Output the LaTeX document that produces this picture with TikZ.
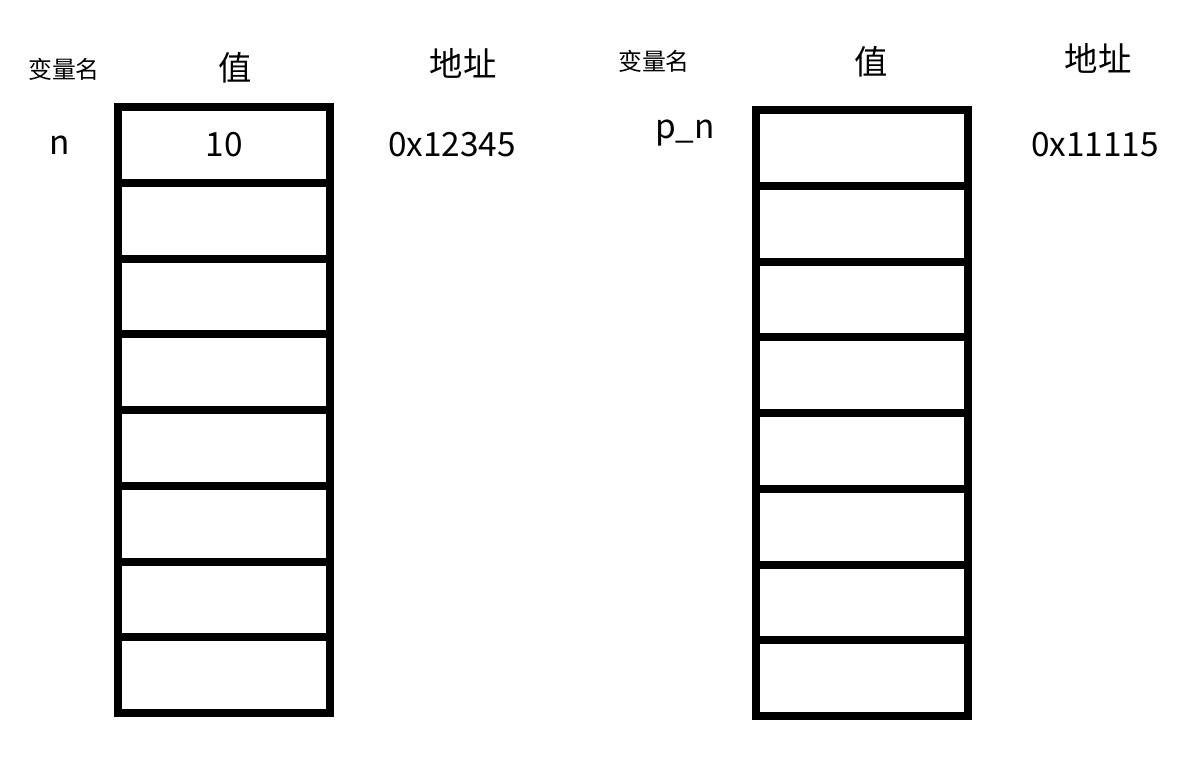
\documentclass[tikz,border=0pt]{standalone}
\usepackage{fontspec}
\setmainfont{Noto Sans CJK SC}
\usetikzlibrary{positioning}

\begin{document}
\begin{tikzpicture}[x=0.02cm, y=-0.02cm, node distance=1.515cm]
    % Define styles
    \tikzstyle{cell} = [rectangle, draw, line width=0.16cm, minimum width=4.24cm, minimum height=1.515cm, inner sep=0pt, outer sep=0pt, font=\fontsize{19}{22}\selectfont]
    \tikzstyle{head} = [inner sep=0pt, font=\fontsize{19}{22}\selectfont]
    \tikzstyle{smallhead} = [inner sep=0pt, font=\fontsize{13.6}{16}\selectfont]
    \tikzstyle{tag} = [inner sep=0pt, font=\fontsize{19}{22}\selectfont]

    \useasboundingbox (0,0) rectangle (1187,775);

    % Column of n
    \node[cell] (nBox1) at (224,145) {10};
    \node[cell, below of=nBox1] (nBox2) {};
    \node[cell, below of=nBox2] (nBox3) {};
    \node[cell, below of=nBox3] (nBox4) {};
    \node[cell, below of=nBox4] (nBox5) {};
    \node[cell, below of=nBox5] (nBox6) {};
    \node[cell, below of=nBox6] (nBox7) {};
    \node[cell, below of=nBox7] (nBox8) {};

    % Column of p_n
    \node[cell] (pnBox1) at (862,148) {};
    \node[cell, below of=pnBox1] (pnBox2) {};
    \node[cell, below of=pnBox2] (pnBox3) {};
    \node[cell, below of=pnBox3] (pnBox4) {};
    \node[cell, below of=pnBox4] (pnBox5) {};
    \node[cell, below of=pnBox5] (pnBox6) {};
    \node[cell, below of=pnBox6] (pnBox7) {};
    \node[cell, below of=pnBox7] (pnBox8) {};

    % Headers
    \node[smallhead] (nNameHead) at (64,69) {变量名};
    \node[head] (nValHead) at (235,68) {值};
    \node[head] (nAddrHead) at (463,63) {地址};
    \node[smallhead] (pnNameHead) at (654,61) {变量名};
    \node[head] (pnValHead) at (871,62) {值};
    \node[head] (pnAddrHead) at (1098,58) {地址};

    % Names and addresses
    \node[tag] (nName) at (60,145) {n};
    \node[tag] (nAddr) at (452,145) {0x12345};
    \node[tag] (pnName) at (685,133) {p\_n};
    \node[tag] (pnAddr) at (1095,145) {0x11115};

\end{tikzpicture}
\end{document}
